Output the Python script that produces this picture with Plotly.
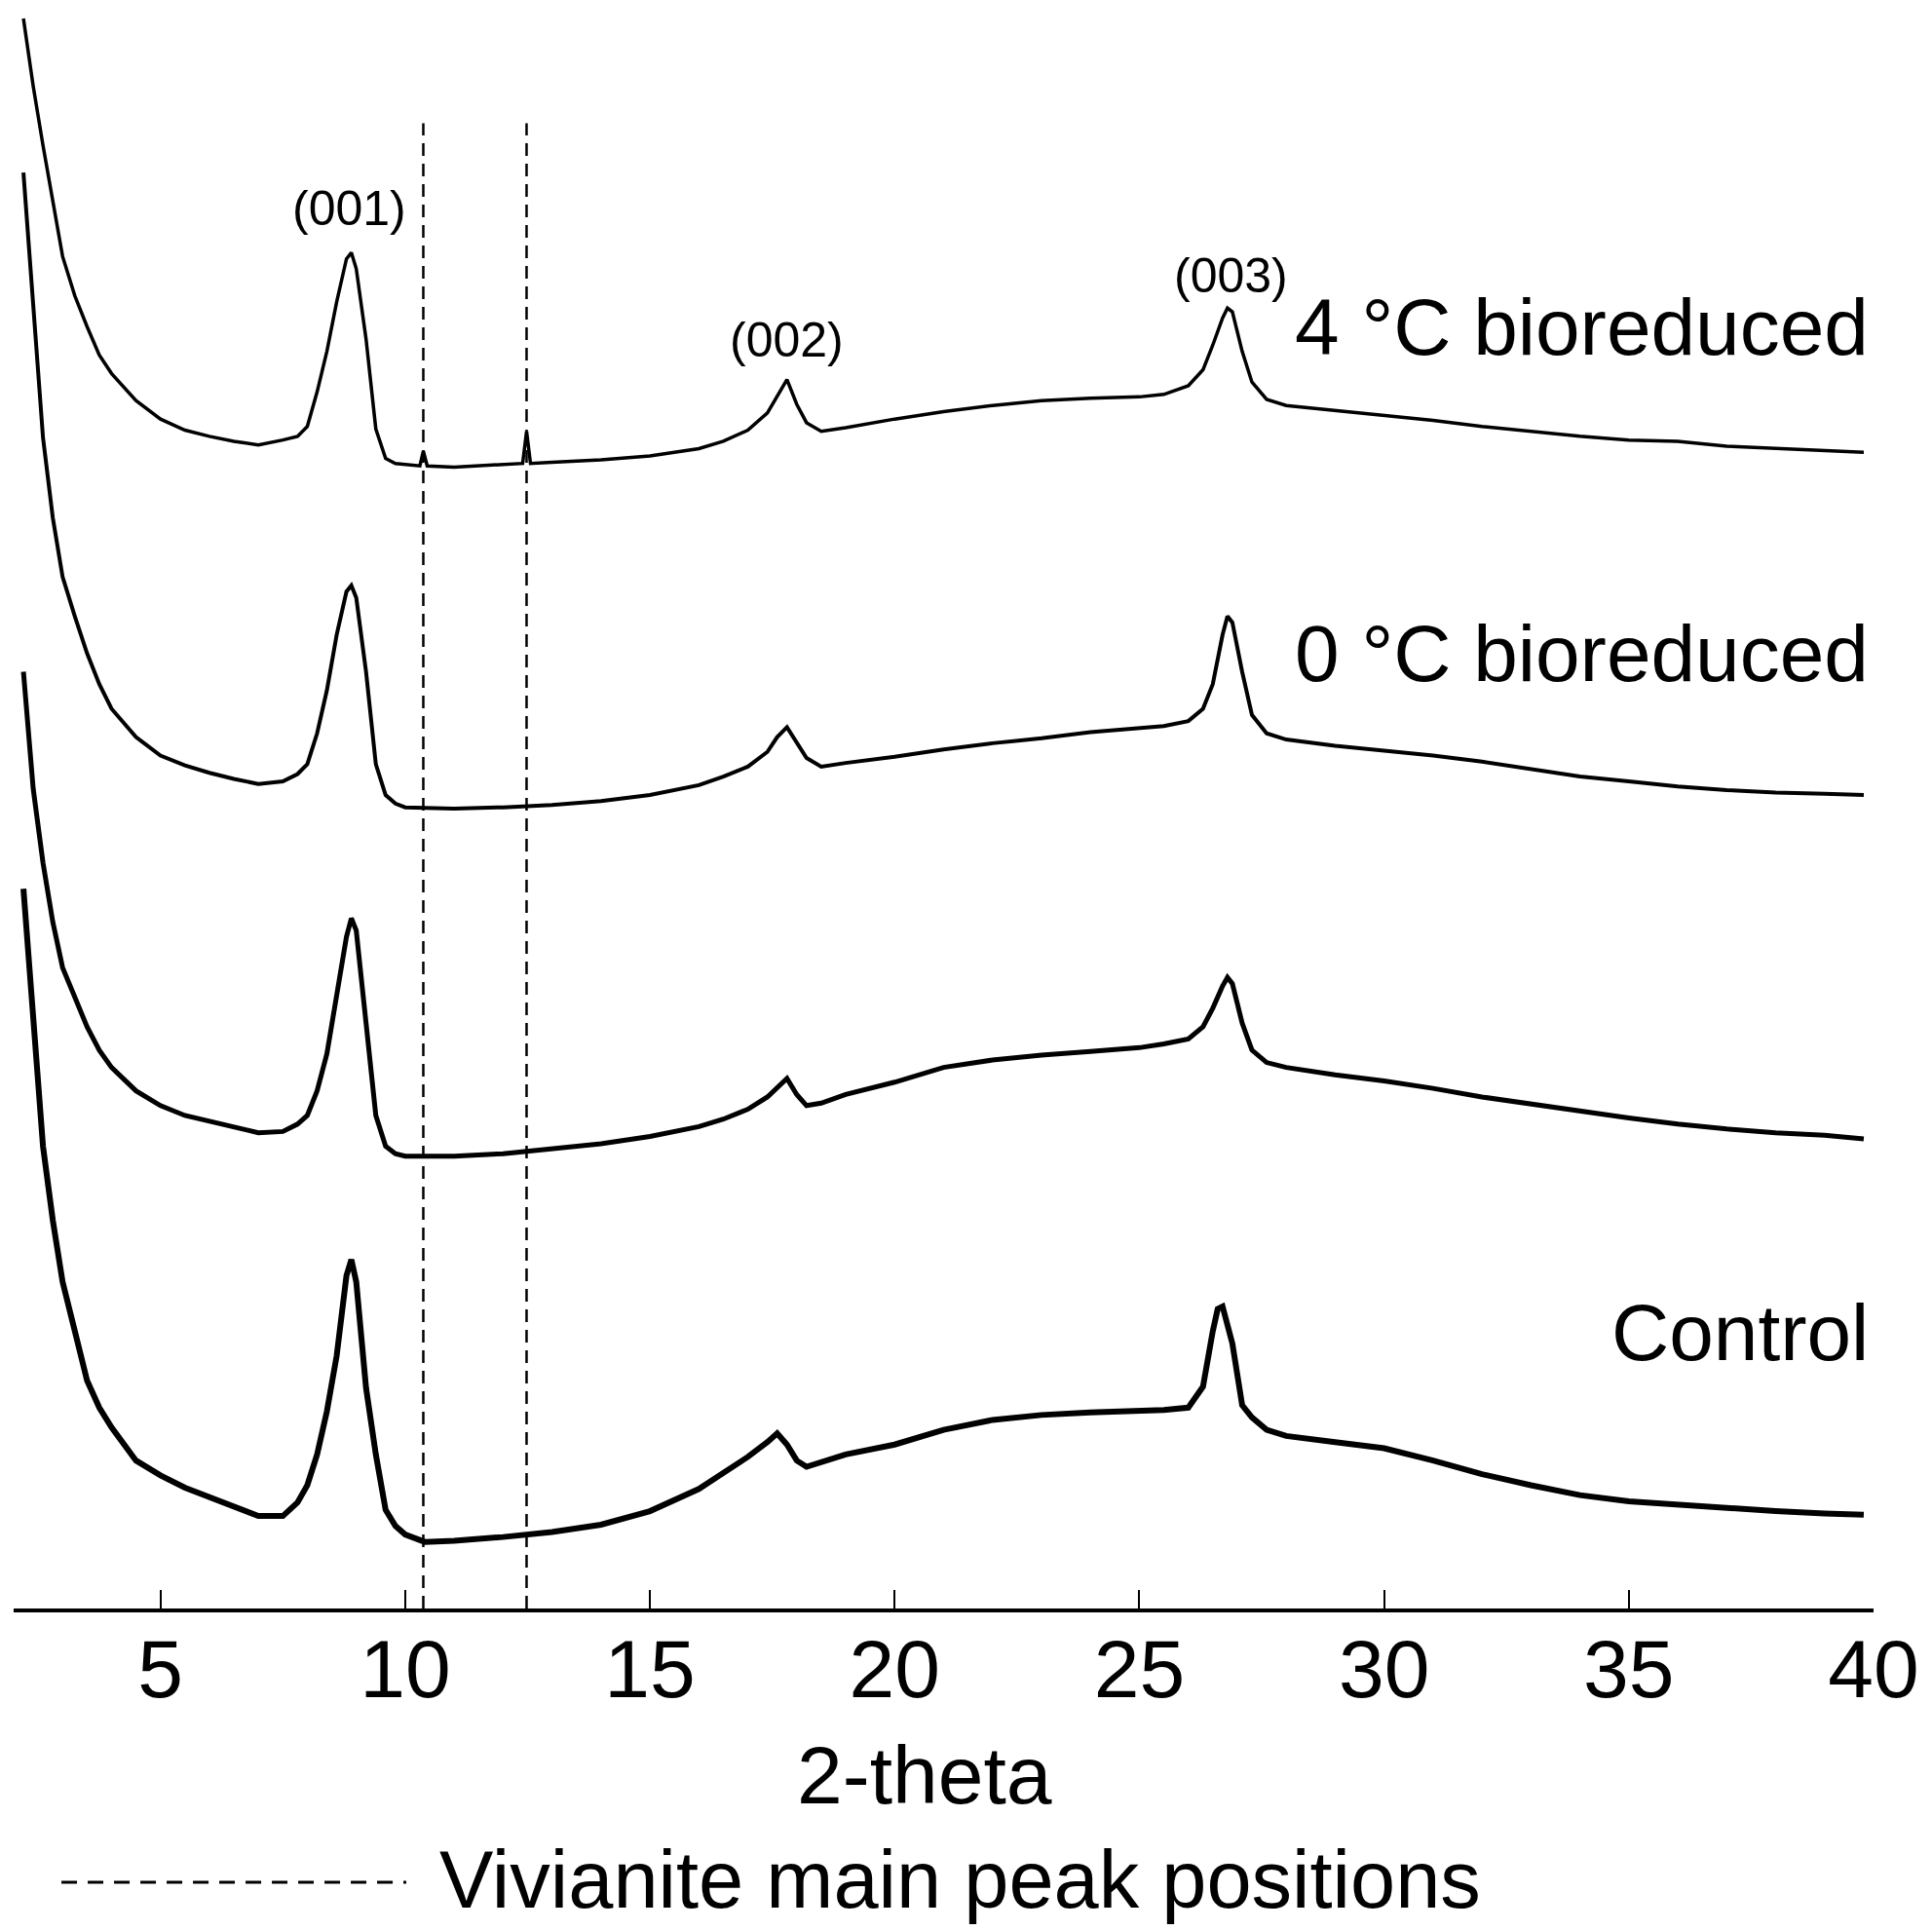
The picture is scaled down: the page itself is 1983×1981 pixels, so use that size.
import plotly.graph_objects as go

# ---------------- data (2-theta in degrees, intensity in arbitrary stacked units) ----------------
tt_4c = [2.2, 2.4, 2.6, 2.8, 3.0, 3.25, 3.5, 3.75, 4.0, 4.5, 5.0, 5.5, 6.0, 6.5, 7.0, 7.5, 7.8,
         8.0, 8.2, 8.4, 8.6, 8.8, 8.9, 9.0, 9.2, 9.4, 9.6, 9.8, 10.0, 10.3, 10.37, 10.45, 11.0,
         12.0, 12.4, 12.48, 12.56, 13.0, 14.0, 15.0, 16.0, 16.5, 17.0, 17.4, 17.6, 17.8, 18.0,
         18.2, 18.5, 19.0, 20.0, 21.0, 22.0, 23.0, 24.0, 25.0, 25.5, 26.0, 26.3, 26.5, 26.7,
         26.8, 26.9, 27.1, 27.3, 27.6, 28.0, 29.0, 30.0, 31.0, 32.0, 33.0, 34.0, 35.0, 36.0,
         37.0, 38.0, 39.0, 39.8]
int_4c = [1290, 1235, 1187, 1140, 1097, 1065, 1040, 1017, 1002, 980, 965, 956, 951, 947, 944, 948, 951,
          959, 987, 1020, 1060, 1095, 1100, 1087, 1030, 957, 933, 929, 928, 927, 939, 927, 926,
          928, 929, 955, 929, 930, 932, 935, 941, 947, 956, 970, 983, 997, 977,
          962, 955, 958, 965, 971, 976, 980, 982, 983, 985, 992, 1005, 1025, 1047,
          1055, 1052, 1020, 995, 981, 976, 972, 968, 964, 959, 955, 951, 948, 947,
          943, 941, 939, 938]

tt_0c = [2.2, 2.4, 2.6, 2.8, 3.0, 3.25, 3.5, 3.75, 4.0, 4.5, 5.0, 5.5, 6.0, 6.5, 7.0, 7.5, 7.8,
         8.0, 8.2, 8.4, 8.6, 8.8, 8.9, 9.0, 9.2, 9.4, 9.6, 9.8, 10.0, 11.0, 12.0, 13.0, 14.0,
         15.0, 16.0, 16.5, 17.0, 17.4, 17.6, 17.8, 18.0, 18.2, 18.5, 19.0, 20.0, 21.0, 22.0,
         23.0, 24.0, 25.0, 25.5, 26.0, 26.3, 26.5, 26.7, 26.8, 26.9, 27.1, 27.3, 27.6, 28.0,
         29.0, 30.0, 31.0, 32.0, 33.0, 34.0, 35.0, 36.0, 37.0, 38.0, 39.0, 39.8]
int_0c = [1165, 1055, 950, 885, 837, 805, 775, 750, 730, 707, 692, 684, 678, 673, 669, 671, 677,
          685, 710, 745, 790, 825, 830, 820, 760, 685, 660, 653, 650, 649, 650, 652, 655,
          660, 668, 675, 683, 695, 707, 715, 702, 690, 683, 686, 691, 697, 702,
          706, 711, 714, 716, 720, 730, 750, 790, 805, 800, 760, 725, 710, 705,
          700, 696, 692, 687, 681, 675, 671, 667, 664, 662, 661, 660]

tt_abiotic = [2.2, 2.4, 2.6, 2.8, 3.0, 3.25, 3.5, 3.75, 4.0, 4.5, 5.0, 5.5, 6.0, 6.5, 7.0, 7.5, 7.8,
              8.0, 8.2, 8.4, 8.6, 8.8, 8.9, 9.0, 9.2, 9.4, 9.6, 9.8, 10.0, 11.0, 12.0, 13.0, 14.0,
              15.0, 16.0, 16.5, 17.0, 17.4, 17.6, 17.8, 18.0, 18.2, 18.5, 19.0, 20.0, 21.0, 22.0,
              23.0, 24.0, 25.0, 25.5, 26.0, 26.3, 26.5, 26.7, 26.8, 26.9, 27.1, 27.3, 27.6, 28.0,
              29.0, 30.0, 31.0, 32.0, 33.0, 34.0, 35.0, 36.0, 37.0, 38.0, 39.0, 39.8]
int_abiotic = [760, 665, 605, 557, 520, 495, 472, 453, 439, 420, 408, 400, 395, 390, 386, 387, 393,
               400, 420, 450, 500, 545, 560, 550, 475, 400, 375, 369, 367, 367, 369, 373, 377,
               383, 391, 397, 405, 415, 423, 430, 417, 408, 410, 417, 427, 439, 445,
               449, 452, 455, 458, 462, 472, 487, 505, 512, 507, 475, 453, 443, 439,
               433, 428, 422, 415, 409, 403, 398, 393, 389, 386, 384, 381]

tt_control = [2.2, 2.4, 2.6, 2.8, 3.0, 3.25, 3.5, 3.75, 4.0, 4.5, 5.0, 5.5, 6.0, 6.5, 7.0, 7.5, 7.8,
              8.0, 8.2, 8.4, 8.6, 8.8, 8.9, 9.0, 9.2, 9.4, 9.6, 9.8, 10.0, 10.4, 11.0, 12.0, 13.0,
              14.0, 15.0, 16.0, 16.5, 17.0, 17.4, 17.6, 17.8, 18.0, 18.2, 18.5, 19.0, 20.0, 21.0,
              22.0, 23.0, 24.0, 25.0, 25.5, 26.0, 26.3, 26.5, 26.6, 26.7, 26.9, 27.1, 27.3, 27.6,
              28.0, 29.0, 30.0, 31.0, 32.0, 33.0, 34.0, 35.0, 36.0, 37.0, 38.0, 39.0, 39.8]
int_control = [584, 475, 375, 315, 265, 225, 185, 163, 147, 120, 108, 98, 90, 83, 75, 75, 86,
               100, 125, 160, 205, 270, 283, 265, 179, 125, 80, 67, 60, 54, 55, 58, 62,
               68, 79, 97, 110, 123, 135, 142, 133, 120, 115, 119, 125, 133, 145,
               153, 157, 159, 160, 161, 163, 180, 225, 243, 245, 215, 165, 155, 145,
               140, 135, 130, 120, 109, 100, 92, 87, 84, 81, 79, 77, 76]

vivianite_peaks = [10.37, 12.48]          # dashed reference lines (2-theta)
tick_values = [5, 10, 15, 20, 25, 30, 35, 40]

series_names = ["4 °C bioreduced", "0 °C bioreduced", "Abiotic reduced", "Control"]
peak_labels = ["(001)", "(002)", "(003)"]
peak_label_x = [8.85, 17.8, 26.88]
peak_label_y = [1136, 1029, 1081]

# ---------------- figure ----------------
FONT = "Liberation Sans, Arial, Helvetica, sans-serif"
fig = go.Figure()

series = [(tt_4c, int_4c, 3.5), (tt_0c, int_0c, 4.0),
          (tt_abiotic, int_abiotic, 5.0), (tt_control, int_control, 6.0)]
for (xs, ys, w), name in zip(series, series_names):
    fig.add_trace(go.Scatter(x=xs, y=ys, mode="lines", name=name,
                             line=dict(color="black", width=w), showlegend=False))

DASH_TOP = 1205
for xv in vivianite_peaks:
    fig.add_trace(go.Scatter(x=[xv, xv], y=[0, DASH_TOP], mode="lines",
                             line=dict(color="black", width=2.5, dash="13px,8px"),
                             showlegend=False, hoverinfo="skip"))

annotations = []
label_pos = [(39.95, 1040), (39.95, 775), (40.07, 521), (39.95, 224)]
for name, (lx, ly) in zip(series_names, label_pos):
    annotations.append(dict(x=lx, y=ly, xref="x", yref="y", text=name, showarrow=False,
                            xanchor="right", yanchor="middle",
                            font=dict(family=FONT, size=82, color="black")))
for t, px, py in zip(peak_labels, peak_label_x, peak_label_y):
    annotations.append(dict(x=px, y=py, xref="x", yref="y", text=t, showarrow=False,
                            xanchor="center", yanchor="middle",
                            font=dict(family=FONT, size=50, color="black")))
# axis title
annotations.append(dict(x=0.49, y=-0.1036, xref="paper", yref="paper", text="2-theta",
                        showarrow=False, xanchor="center", yanchor="middle",
                        font=dict(family=FONT, size=84, color="black")))
# legend text
annotations.append(dict(x=0.2279, y=-0.1684, xref="paper", yref="paper",
                        text="Vivianite main peak positions", showarrow=False,
                        xanchor="left", yanchor="middle",
                        font=dict(family=FONT, size=83, color="black")))

fig.update_layout(
    width=1983, height=1981,
    paper_bgcolor="white", plot_bgcolor="white",
    margin=dict(l=14, r=60, t=0, b=330, pad=0),
    font=dict(family=FONT, color="black"),
    xaxis=dict(range=[2, 40], tickmode="array", tickvals=tick_values,
               showline=True, linecolor="black", linewidth=4,
               ticks="inside", ticklen=19, tickwidth=2, tickcolor="black",
               ticklabelstandoff=-14,
               showgrid=False, zeroline=False,
               tickfont=dict(family=FONT, size=84, color="black")),
    yaxis=dict(range=[0, 1305], visible=False, showgrid=False, zeroline=False),
    annotations=annotations,
    shapes=[dict(type="line", xref="paper", yref="paper", x0=0.0257, x1=0.2111,
                 y0=-0.1702, y1=-0.1702,
                 line=dict(color="black", width=3, dash="16px,11px"))],
)

fig.write_html("out.html", config={"displayModeBar": False},
               post_script="document.body.style.margin='0px';")
